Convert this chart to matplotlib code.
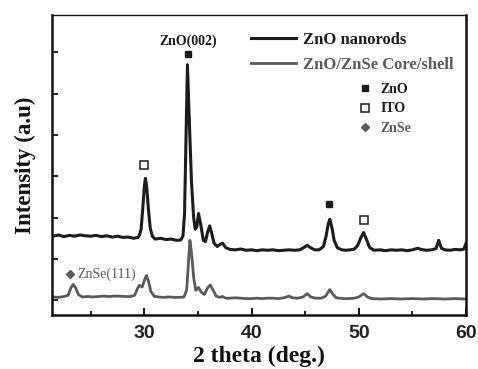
import matplotlib
matplotlib.use("Agg")
import matplotlib.pyplot as plt
from matplotlib.lines import Line2D
from matplotlib.ticker import MultipleLocator

# ---- data (2theta in deg, intensity in arbitrary units) ----
nanorods_x = [21.5, 22.0, 22.5, 23.0, 23.5, 24.0, 24.5, 25.0, 25.5, 26.0, 26.5, 27.0, 27.5,
              28.0, 28.5, 29.0, 29.4, 29.55, 29.7, 29.85, 30.0, 30.1, 30.22, 30.38, 30.55,
              30.75, 31.0, 31.5, 32.0, 32.5, 33.0, 33.4, 33.6, 33.75, 33.87, 34.02, 34.2,
              34.4, 34.6, 34.75, 34.9, 35.05, 35.25, 35.5, 35.7, 35.9, 36.1, 36.3, 36.5,
              36.8, 37.1, 37.3, 37.6, 38.0, 38.5, 39.0, 39.5, 40.0, 40.5, 41.0, 41.5, 42.0,
              42.5, 43.0, 43.5, 44.0, 44.5, 44.9, 45.2, 45.5, 45.9, 46.3, 46.7, 46.95, 47.15,
              47.3, 47.5, 47.7, 48.0, 48.4, 48.8, 49.2, 49.6, 49.9, 50.2, 50.45, 50.7, 51.0,
              51.4, 52.0, 52.5, 53.0, 53.5, 54.0, 54.5, 55.0, 55.5, 55.8, 56.3, 56.8, 57.2,
              57.45, 57.7, 58.0, 58.5, 59.0, 59.5, 59.8, 60.0]
nanorods_y = [1.55, 1.58, 1.54, 1.57, 1.55, 1.58, 1.56, 1.55, 1.57, 1.54, 1.56, 1.53, 1.55,
              1.52, 1.53, 1.50, 1.52, 1.58, 1.72, 2.20, 2.75, 2.95, 2.75, 2.20, 1.75,
              1.55, 1.48, 1.50, 1.47, 1.48, 1.45, 1.46, 1.55, 2.10, 3.70, 5.70, 4.30,
              2.85, 2.00, 1.72, 1.78, 2.10, 1.85, 1.45, 1.42, 1.65, 1.80, 1.60, 1.38,
              1.30, 1.36, 1.38, 1.27, 1.23, 1.22, 1.24, 1.21, 1.22, 1.20, 1.22, 1.21, 1.22,
              1.20, 1.21, 1.22, 1.21, 1.22, 1.28, 1.33, 1.27, 1.22, 1.22, 1.30, 1.55, 1.85,
              1.96, 1.75, 1.45, 1.27, 1.22, 1.21, 1.22, 1.24, 1.33, 1.52, 1.64, 1.48, 1.28,
              1.21, 1.22, 1.20, 1.22, 1.21, 1.22, 1.20, 1.22, 1.26, 1.23, 1.21, 1.22, 1.25,
              1.45, 1.26, 1.22, 1.21, 1.23, 1.22, 1.24, 1.38]

coreshell_x = [21.5, 22.0, 22.5, 22.9, 23.15, 23.35, 23.6, 23.85, 24.2, 24.7, 25.2, 25.7, 26.2,
               26.7, 27.2, 27.7, 28.2, 28.7, 29.1, 29.35, 29.55, 29.8, 30.0, 30.2, 30.4, 30.6,
               30.9, 31.3, 31.8, 32.3, 32.8, 33.3, 33.7, 33.95, 34.1, 34.25, 34.42, 34.6, 34.8,
               35.05, 35.3, 35.6, 35.9, 36.15, 36.4, 36.7, 37.0, 37.3, 37.6, 38.0, 38.5, 39.0,
               39.5, 40.0, 40.5, 41.0, 41.5, 42.0, 42.5, 43.0, 43.5, 43.8, 44.3, 44.8, 45.2,
               45.5, 46.0, 46.5, 46.9, 47.3, 47.6, 47.9, 48.5, 49.0, 49.6, 50.0, 50.45, 50.8,
               51.2, 52.0, 53.0, 54.0, 55.0, 56.0, 57.0, 58.0, 59.0, 60.0]
coreshell_y = [0.08, 0.07, 0.09, 0.12, 0.30, 0.38, 0.30, 0.14, 0.08, 0.09, 0.08, 0.09, 0.10,
               0.09, 0.10, 0.10, 0.09, 0.09, 0.12, 0.28, 0.36, 0.32, 0.48, 0.60, 0.45, 0.22,
               0.10, 0.08, 0.07, 0.08, 0.07, 0.07, 0.08, 0.25, 0.85, 1.45, 1.10, 0.55, 0.24,
               0.31, 0.20, 0.14, 0.30, 0.37, 0.25, 0.10, 0.07, 0.09, 0.05, 0.05, 0.06, 0.05,
               0.04, 0.04, 0.05, 0.04, 0.05, 0.05, 0.04, 0.06, 0.10, 0.06, 0.05, 0.08, 0.16,
               0.08, 0.05, 0.05, 0.10, 0.26, 0.14, 0.06, 0.04, 0.04, 0.05, 0.08, 0.16, 0.08,
               0.04, 0.03, 0.04, 0.03, 0.04, 0.03, 0.04, 0.03, 0.04, 0.03]

# phase markers: (2theta, height)
zno_marks_x = [34.05, 47.2]
zno_marks_y = [5.95, 2.32]
ito_marks_x = [30.0, 50.45]
ito_marks_y = [3.27, 1.94]
znse_marks_x = [23.1]
znse_marks_y = [0.63]

series_labels = ["ZnO nanorods", "ZnO/ZnSe Core/shell"]
phase_labels = ["ZnO", "ITO", "ZnSe"]
xticks = [30, 40, 50, 60]

DARK = "#1c1c1c"
GRAY = "#5a5a5a"
SERIF = "Liberation Serif"

fig = plt.figure(figsize=(4.78, 3.69), dpi=100)
ax = fig.add_axes([0.109, 0.146, 0.866, 0.813])

l1, = ax.plot(nanorods_x, nanorods_y, color=DARK, lw=2.2)
l2, = ax.plot(coreshell_x, coreshell_y, color=GRAY, lw=2.0)

ax.plot(zno_marks_x, zno_marks_y, ls="none", marker="s", ms=5, color=DARK)
ax.plot(ito_marks_x, ito_marks_y, ls="none", marker="s", ms=6, mfc="white", mec=DARK, mew=1.1)
ax.plot(znse_marks_x, znse_marks_y, ls="none", marker="D", ms=4, color=GRAY)

ax.text(34.1, 6.1, "ZnO(002)", ha="center", va="bottom", fontsize=10,
        family=SERIF, fontweight="bold", color=DARK)
ax.text(23.75, 0.63, "ZnSe(111)", ha="left", va="center", fontsize=10,
        family=SERIF, color=GRAY)

ax.set_xlim(21.4, 60.0)
ax.set_ylim(-0.36, 6.9)
ax.set_xticks(xticks)
ax.xaxis.set_minor_locator(MultipleLocator(5))
ax.yaxis.set_major_locator(MultipleLocator(1))
ax.set_yticklabels([])
ax.tick_params(axis="both", which="both", direction="in", top=False, right=False)
ax.tick_params(axis="x", which="major", length=5, width=1.3, labelsize=14, pad=7)
ax.tick_params(axis="x", which="minor", length=3, width=1.2)
ax.tick_params(axis="y", which="major", length=4, width=1.2)
for lab in ax.get_xticklabels():
    lab.set_fontweight("bold")
    lab.set_family("Liberation Sans")
    lab.set_color("#222222")
for side, sp in ax.spines.items():
    sp.set_linewidth(1.8 if side != "top" else 1.0)
    sp.set_color("#111111")

ax.set_xlabel("2 theta (deg.)", family=SERIF, fontweight="bold", fontsize=17,
              labelpad=3, color="#111111")
ax.set_ylabel("Intensity (a.u)", family=SERIF, fontweight="bold", fontsize=16.5,
              labelpad=8, color="#111111")

leg1 = ax.legend([l1, l2], series_labels, loc="upper left", bbox_to_anchor=(0.445, 0.995),
                 frameon=False, handlelength=2.7, handletextpad=0.4, labelspacing=0.55,
                 prop={"family": SERIF, "weight": "bold", "size": 12},
                 labelcolor=[DARK, GRAY])
ax.add_artist(leg1)

h_zno = Line2D([], [], ls="none", marker="s", ms=5, color=DARK)
h_ito = Line2D([], [], ls="none", marker="s", ms=6, mfc="white", mec=DARK, mew=1.1)
h_znse = Line2D([], [], ls="none", marker="D", ms=4, color=GRAY)
leg2 = ax.legend([h_zno, h_ito, h_znse], phase_labels, loc="upper left",
                 bbox_to_anchor=(0.71, 0.815), frameon=False, handlelength=1.0,
                 handletextpad=0.6, labelspacing=0.45,
                 prop={"family": SERIF, "weight": "bold", "size": 10},
                 labelcolor=[DARK, DARK, GRAY])

fig.savefig("out.png", dpi=100)
